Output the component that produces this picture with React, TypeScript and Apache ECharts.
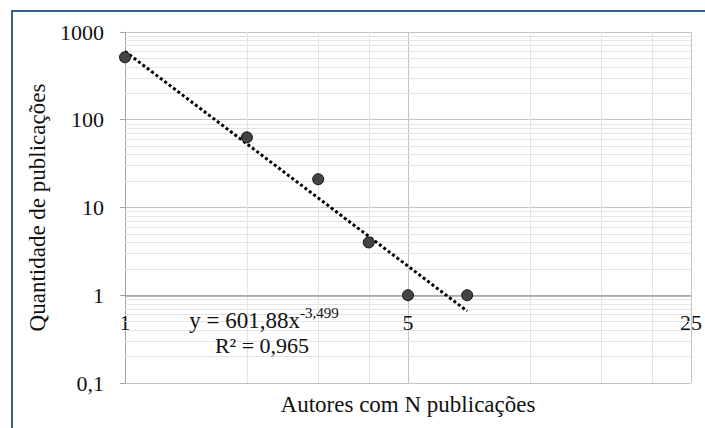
import React, { useEffect, useRef } from "react";
import * as echarts from "echarts";

// ---- data ----
const autoresN = [1, 2, 3, 4, 5, 7];
const quantidadePub = [515, 63, 21, 4, 1, 1];
const trendX = [1, 7];
const trendY = [601.88, 0.66];
const xMinorGrid = [2, 3, 4, 10, 15, 20];
const yMinorMultipliers = [2, 3, 4, 5, 6, 7, 8, 9];
const yDecades = [0.1, 1, 10, 100];
const equationText = "y = 601,88x";
const equationExp = "-3,499";
const r2Text = "R² = 0,965";

const FONT = "Liberation Serif";

export default function App() {
  const ref = useRef<HTMLDivElement>(null);
  useEffect(() => {
    if (!ref.current) return;
    const chart = echarts.init(ref.current, undefined, { renderer: "svg" });

    const yMinor: number[] = [];
    yDecades.forEach((d) => yMinorMultipliers.forEach((m) => yMinor.push(Number((m * d).toPrecision(6)))));

    const minorLine = { color: "#e4e4e4", width: 1, type: "solid" as const };

    chart.setOption({
      animation: false,
      backgroundColor: "#ffffff",
      textStyle: { fontFamily: FONT },
      grid: { left: 125, right: 12, top: 32, bottom: 45, containLabel: false },
      xAxis: {
        type: "log",
        logBase: 5,
        min: 1,
        max: 25,
        name: "Autores com N publicações",
        nameLocation: "middle",
        nameGap: 10,
        nameTextStyle: { fontFamily: FONT, fontSize: 23, color: "#111" },
        axisLine: { show: false },
        axisTick: { show: false },
        axisLabel: {
          margin: -72,
          fontFamily: FONT,
          fontSize: 22,
          color: "#111",
          showMinLabel: true,
          showMaxLabel: true,
        },
        splitLine: { show: true, lineStyle: { color: "#c4c4c4", width: 1 } },
      },
      yAxis: {
        type: "log",
        logBase: 10,
        min: 0.1,
        max: 1000,
        name: "Quantidade de publicações",
        nameLocation: "middle",
        nameGap: 72,
        nameTextStyle: { fontFamily: FONT, fontSize: 23, color: "#111" },
        axisLine: { show: true, lineStyle: { color: "#a0a0a0", width: 1 } },
        axisTick: { show: true, length: 5, lineStyle: { color: "#a0a0a0" } },
        axisLabel: {
          margin: 21,
          fontFamily: FONT,
          fontSize: 22,
          color: "#111",
          formatter: (v: number) => String(Number(v.toPrecision(6))).replace(".", ","),
        },
        splitLine: { show: true, lineStyle: { color: "#c4c4c4", width: 1 } },
      },
      graphic: [
        {
          type: "polyline",
          silent: true,
          z: 10,
          shape: { points: [[12, 440], [12, 11], [720, 11]] },
          style: { fill: "none", stroke: "#335f8f", lineWidth: 2 },
        },
        {
          type: "text",
          z: 10,
          x: 300,
          y: 320,
          style: {
            text: equationText,
            font: `23px ${FONT}`,
            fill: "#111",
            align: "right",
            verticalAlign: "middle",
          },
        },
        {
          type: "text",
          z: 10,
          x: 300,
          y: 313,
          style: {
            text: equationExp,
            font: `15px ${FONT}`,
            fill: "#111",
            align: "left",
            verticalAlign: "middle",
          },
        },
        {
          type: "text",
          z: 10,
          x: 262,
          y: 345,
          style: {
            text: r2Text,
            font: `22px ${FONT}`,
            fill: "#111",
            align: "center",
            verticalAlign: "middle",
          },
        },
      ],
      series: [
        {
          type: "line",
          name: "grid",
          data: [],
          z: 1,
          silent: true,
          markLine: {
            z: 1,
            silent: true,
            symbol: "none",
            label: { show: false },
            animation: false,
            data: [
              ...xMinorGrid.map((v) => ({ xAxis: v, lineStyle: minorLine })),
              ...yMinor.map((v) => ({ yAxis: v, lineStyle: minorLine })),
              { yAxis: 1, lineStyle: { color: "#a0a0a0", width: 1.5, type: "solid" } },
            ],
          },
        },
        {
          type: "line",
          name: "trend",
          z: 3,
          silent: true,
          data: trendX.map((x, i) => [x, trendY[i]]),
          symbol: "none",
          lineStyle: { color: "#000", width: 3, type: [3, 2.5] },
        },
        {
          type: "scatter",
          name: "pubs",
          z: 4,
          silent: true,
          symbol: "circle",
          data: autoresN.map((x, i) => [x, quantidadePub[i]]),
          symbolSize: 11,
          emphasis: { disabled: true },
          itemStyle: { color: "#444444", borderColor: "#111111", borderWidth: 1, opacity: 1 },
        },
      ],
    });
    return () => chart.dispose();
  }, []);
  return (
    <div
      ref={ref}
      style={{ position: "fixed", left: 0, top: 0, width: 705, height: 428, background: "#fff" }}
    />
  );
}
